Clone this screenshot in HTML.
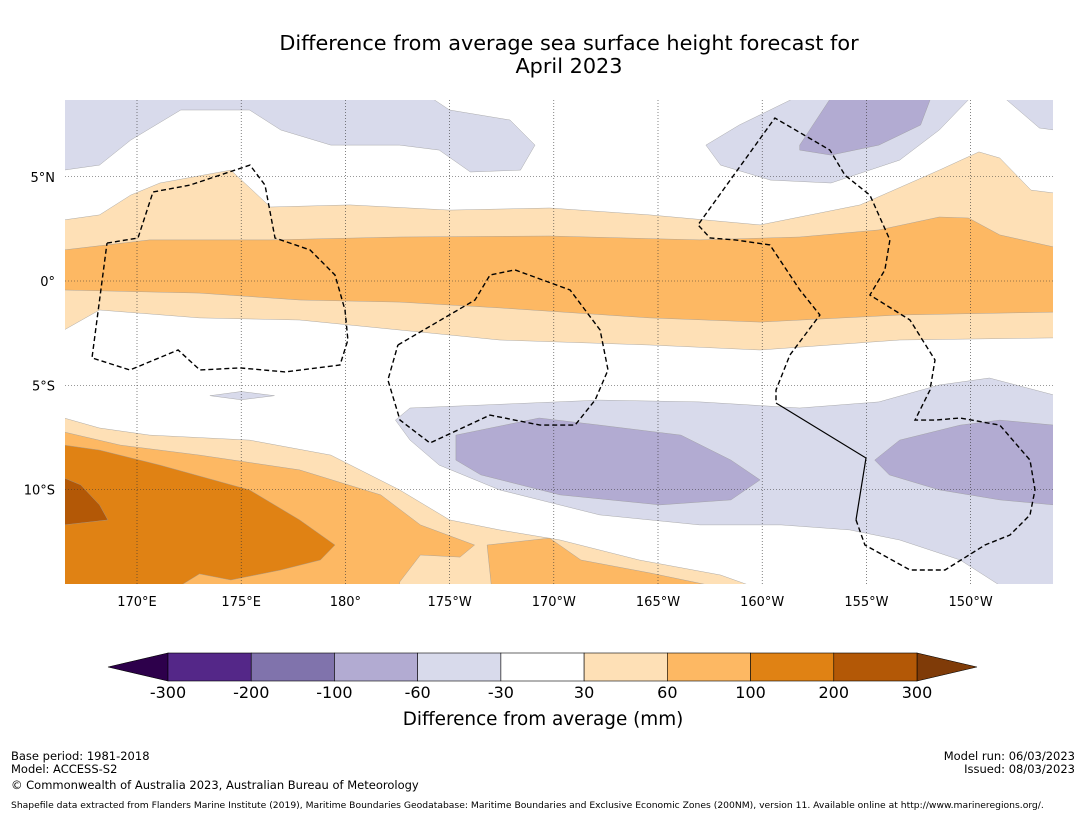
<!DOCTYPE html>
<html><head><meta charset="utf-8">
<style>
body{margin:0;background:#fff;font-family:"DejaVu Sans",sans-serif;}
svg text{font-family:"DejaVu Sans",sans-serif;}
</style></head>
<body>
<svg width="1085" height="816" viewBox="0 0 1085 816">
<text x="569" y="50" font-size="20.8" text-anchor="middle">Difference from average sea surface height forecast for</text>
<text x="569" y="73" font-size="20.8" text-anchor="middle">April 2023</text>
<defs><clipPath id="mapclip"><rect x="65" y="100" width="988" height="484"/></clipPath></defs>
<g id="map" clip-path="url(#mapclip)"></g>
<g id="axes"></g>
<g id="cbar"></g>
<text x="543" y="725" font-size="18.4" text-anchor="middle">Difference from average (mm)</text>
<text x="11" y="760" font-size="11.5">Base period: 1981-2018</text>
<text x="11" y="773" font-size="11.5">Model: ACCESS-S2</text>
<text x="11" y="789" font-size="11.5">© Commonwealth of Australia 2023, Australian Bureau of Meteorology</text>
<text x="1075" y="760" font-size="11.5" text-anchor="end">Model run: 06/03/2023</text>
<text x="1075" y="773" font-size="11.5" text-anchor="end">Issued: 08/03/2023</text>
<text x="11" y="808" font-size="9.2">Shapefile data extracted from Flanders Marine Institute (2019), Maritime Boundaries Geodatabase: Maritime Boundaries and Exclusive Economic Zones (200NM), version 11. Available online at http://www.marineregions.org/.</text>
</svg>
<script>
// Axis domains
const lonTicks=[170,175,180,185,190,195,200,205,210];
const lonTickLabels=["170°E","175°E","180°","175°W","170°W","165°W","160°W","155°W","150°W"];
const latTicks=[5,0,-5,-10];
const latTickLabels=["5°N","0°","5°S","10°S"];
// Colorbar levels and colours
const levels=[-300,-200,-100,-60,-30,30,60,100,200,300];
const binColors=["#542788","#8073ac","#b2abd2","#d8daeb","#ffffff","#fee0b6","#fdb863","#e08214","#b35806"];
const underColor="#2d004b", overColor="#7f3b08";
// Contour regions [lon(°E), lat] with fill colour
const lightOrangeEq=[[166.5,2.93],[168.2,3.17],[169.7,4.12],[171.1,4.7],[174.5,5.32],[176.4,3.55],[180.2,3.65],[185,3.4],[189.8,3.5],[194.6,3.17],[199.9,2.69],[204.7,3.65],[208.5,5.32],[210.4,6.19],[211.4,5.9],[212.9,4.36],[214,4.22],[214,-2.73],[206.6,-2.83],[199.9,-3.31],[194.6,-3.07],[187.4,-2.83],[182.6,-2.35],[177.8,-1.87],[173,-1.77],[168.2,-1.39],[166.5,-2.35]];
const midOrangeEq=[[166.5,1.49],[170.6,1.97],[176.4,1.97],[182.6,2.11],[189.8,2.16],[197,1.97],[201.8,2.11],[205.6,2.45],[208.5,3.07],[209.9,3.02],[211.4,2.21],[214,1.63],[214,-1.49],[206.6,-1.63],[199.9,-1.97],[194.6,-1.77],[187.4,-1.29],[182.6,-1.01],[177.8,-0.91],[173,-0.58],[166.5,-0.43]];
const lightOrangeSW=[[166.5,-6.57],[168.2,-7.05],[170.6,-7.39],[175.4,-7.63],[179.3,-8.35],[182.6,-10.02],[185,-11.46],[187.4,-11.94],[190.3,-12.42],[194.1,-13.38],[198,-14.1],[199.4,-14.6],[166.5,-14.6]];
const midOrangeSW=[[166.5,-7.24],[169.2,-7.87],[173,-8.35],[177.8,-9.06],[181.7,-10.26],[183.6,-11.7],[186.2,-12.66],[185.5,-13.24],[183.6,-13.14],[182.6,-14.44],[182.6,-14.6],[166.5,-14.6]];
const midOrangeS2=[[186.8,-12.66],[189.8,-12.33],[191.3,-13.38],[194.6,-14],[197.5,-14.6],[187,-14.6]];
const darkOrangeSW=[[166.5,-7.87],[168.2,-8.11],[171.1,-8.83],[175.4,-10.02],[177.8,-11.46],[179.5,-12.66],[178.8,-13.38],[176.9,-13.86],[174.5,-14.34],[173,-14.05],[172.1,-14.6],[166.5,-14.6]];
const darkestOrangeSW=[[166.5,-9.45],[167.3,-9.78],[168.2,-10.74],[168.6,-11.46],[166.5,-11.7]];
const lightPurpleNW=[[166.5,8.8],[184.1,8.8],[185,8.2],[187.9,7.72],[189.1,6.52],[188.4,5.32],[186,5.23],[184.5,6.28],[182.6,6.52],[179.3,6.52],[176.9,7.24],[175.4,8.2],[172.1,8.2],[169.7,6.76],[168.2,5.56],[166.5,5.32]];
const lightPurpleNE=[[197.3,6.52],[198.9,7.48],[201.6,8.8],[210,8.8],[208.5,7.24],[206.6,5.8],[203.3,4.7],[200.4,4.84],[198,5.56]];
const lightPurpleNE2=[[211.6,8.8],[214,8.8],[214,7.24],[213.3,7.34]];
const midPurpleNE=[[201.8,6.52],[203.3,8.8],[208.1,8.8],[207.6,7.48],[205.6,6.52],[203.3,6.04],[201.8,6.28]];
const lightPurpleS=[[182.4,-6.67],[183.1,-6.09],[186.5,-5.95],[192.2,-5.71],[197,-5.8],[201.8,-6.09],[205.6,-5.8],[208.5,-4.99],[210.9,-4.65],[214,-5.47],[214,-14.6],[211.4,-14.6],[209.5,-13.38],[206.6,-12.42],[204.2,-11.94],[200.9,-11.7],[197,-11.7],[192.2,-11.22],[187.4,-10.02],[184.5,-8.83],[183.1,-7.63]];
const lightPurpleSmall=[[173.5,-5.5],[175,-5.3],[176.6,-5.5],[175,-5.7]];
const midPurpleS=[[185.3,-7.39],[189.3,-6.57],[192.2,-6.91],[196.1,-7.39],[198.5,-8.59],[199.9,-9.54],[198.5,-10.5],[195.1,-10.74],[190.3,-10.26],[186.5,-9.3],[185.3,-8.59]];
const midPurpleSE=[[205.4,-8.59],[206.6,-7.63],[209.5,-6.91],[211.4,-6.67],[214,-6.91],[214,-10.74],[211.4,-10.5],[208.5,-10.02],[206.1,-9.3]];
const regions=[
 ["light-orange-equatorial",lightOrangeEq,"#fee0b6"],["mid-orange-equatorial",midOrangeEq,"#fdb863"],
 ["light-orange-southwest",lightOrangeSW,"#fee0b6"],["mid-orange-southwest",midOrangeSW,"#fdb863"],["mid-orange-south",midOrangeS2,"#fdb863"],
 ["dark-orange-southwest",darkOrangeSW,"#e08214"],["darkest-orange-southwest",darkestOrangeSW,"#b35806"],
 ["light-purple-northwest",lightPurpleNW,"#d8daeb"],["light-purple-northeast",lightPurpleNE,"#d8daeb"],["light-purple-northeast-2",lightPurpleNE2,"#d8daeb"],["mid-purple-northeast",midPurpleNE,"#b2abd2"],
 ["light-purple-south",lightPurpleS,"#d8daeb"],["light-purple-small",lightPurpleSmall,"#d8daeb"],["mid-purple-south",midPurpleS,"#b2abd2"],["mid-purple-southeast",midPurpleSE,"#b2abd2"]];
// EEZ boundaries
const eezGilbert=[[168.56,1.82],[170.05,2.06],[170.77,4.27],[172.54,4.6],[175.42,5.56],[176.14,4.6],[176.62,2.06],[178.3,1.49],[179.5,0.29],[179.98,-1.39],[180.12,-2.83],[179.74,-4.03],[177.1,-4.36],[174.94,-4.17],[173.02,-4.27],[171.97,-3.31],[169.66,-4.27],[167.84,-3.69],[168.56,1.82]];
const eezPhoenix=[[182.52,-3.07],[186.22,-0.91],[186.94,0.29],[188.14,0.53],[190.78,-0.43],[192.22,-2.35],[192.6,-4.27],[191.98,-5.71],[191.02,-6.91],[189.34,-6.91],[186.94,-6.43],[184.06,-7.77],[182.62,-6.67],[182.04,-4.75],[182.52,-3.07]];
const eezLine=[[204.5,-11.46],[204.93,-12.66],[207.09,-13.86],[208.77,-13.86],[210.69,-12.66],[211.89,-12.18],[212.85,-11.22],[213.09,-10.02],[212.85,-8.59],[211.4,-6.91],[209.5,-6.57],[208.29,-6.67],[207.33,-6.67],[208.05,-5.23],[208.29,-3.79],[207.09,-1.87],[205.17,-0.67],[205.89,0.53],[206.13,1.97],[205.17,4.12],[203.97,5.08],[203.25,6.28],[200.61,7.82],[196.92,2.69],[197.5,2.06],[198.7,1.97],[200.37,1.73],[201.81,-0.43],[202.77,-1.63],[201.33,-3.55],[200.66,-5.23],[200.66,-5.85]];
const solidBoundary=[[200.66,-5.85],[204.98,-8.49],[204.5,-11.46]];

const NS="http://www.w3.org/2000/svg";
const X0=137,XS=20.84,Y0=281,YS=20.85;
const xScale=lon=>X0+(lon-170)*XS;
const yScale=lat=>Y0-lat*YS;
const pts=a=>a.map(p=>xScale(p[0]).toFixed(1)+","+yScale(p[1]).toFixed(1)).join(" ");
function mk(tag,attrs,parent){const e=document.createElementNS(NS,tag);for(const k in attrs)e.setAttribute(k,attrs[k]);parent.appendChild(e);return e;}
const map=document.getElementById("map");
mk("rect",{x:65,y:100,width:988,height:484,fill:"#fff"},map);
regions.forEach(r=>{
 const e=mk("polygon",{points:pts(r[1]),fill:r[2],stroke:"#999",'stroke-width':0.4},map);
 
 
});
lonTicks.forEach(l=>{const e=mk("line",{x1:xScale(l),x2:xScale(l),y1:100,y2:584,stroke:"#333",'stroke-width':0.6,'stroke-dasharray':"1,2"},map);
 
 });
latTicks.forEach(l=>{const e=mk("line",{x1:65,x2:1053,y1:yScale(l),y2:yScale(l),stroke:"#333",'stroke-width':0.6,'stroke-dasharray':"1,2"},map);
 
 });
[["eez-gilbert",eezGilbert],["eez-phoenix",eezPhoenix],["eez-line-islands",eezLine]].forEach(b=>{
 const e=mk("polyline",{points:pts(b[1]),fill:"none",stroke:"#000",'stroke-width':1.4,'stroke-dasharray':"5,3"},map);
 
 
});
const sb=mk("polyline",{points:pts(solidBoundary),fill:"none",stroke:"#000",'stroke-width':1.2},map);


const axes=document.getElementById("axes");
lonTicks.forEach((l,i)=>{const t=mk("text",{x:xScale(l),y:606,'font-size':13,'text-anchor':"middle"},axes);t.textContent=lonTickLabels[i];
 
 });
latTicks.forEach((l,i)=>{const t=mk("text",{x:55,y:yScale(l)+5,'font-size':13,'text-anchor':"end"},axes);t.textContent=latTickLabels[i];
 
 });
const cb=document.getElementById("cbar");
const cx0=168,cx1=917,cy=653,ch=28,bw=(cx1-cx0)/binColors.length;
const u=mk("polygon",{points:`${cx0},${cy} ${cx0},${cy+ch} 108,${cy+ch/2}`,fill:underColor,stroke:"#000",'stroke-width':0.6},cb);


const o=mk("polygon",{points:`${cx1},${cy} ${cx1},${cy+ch} 977,${cy+ch/2}`,fill:overColor,stroke:"#000",'stroke-width':0.6},cb);


binColors.forEach((c,i)=>{const r=mk("rect",{x:cx0+i*bw,y:cy,width:bw,height:ch,fill:c,stroke:"#000",'stroke-width':0.6},cb);
 
 });
levels.forEach((v,i)=>{const t=mk("text",{x:cx0+i*bw,y:698,'font-size':16,'text-anchor':"middle"},cb);t.textContent=v;
 
 });
</script>
</body></html>
